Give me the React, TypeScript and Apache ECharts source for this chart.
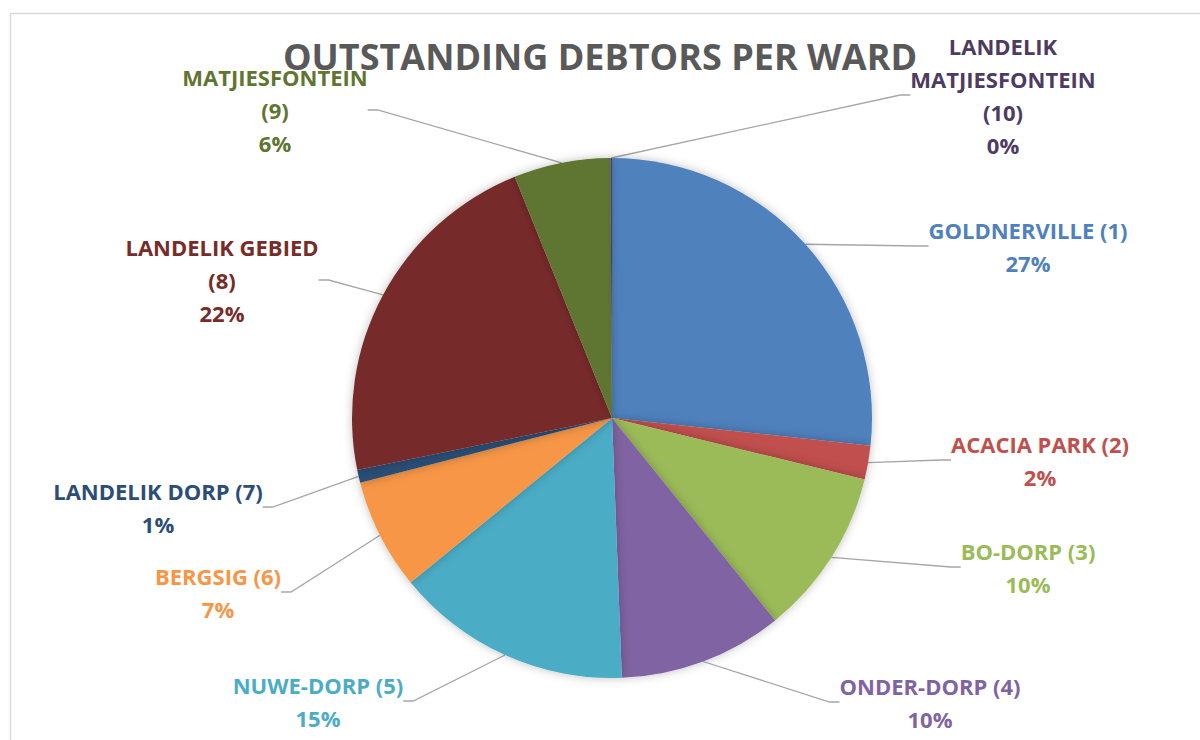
import React, { useEffect, useRef } from "react";
import * as echarts from "echarts";

const wards = [
  "GOLDNERVILLE (1)",
  "ACACIA PARK (2)",
  "BO-DORP (3)",
  "ONDER-DORP (4)",
  "NUWE-DORP (5)",
  "BERGSIG (6)",
  "LANDELIK DORP (7)",
  "LANDELIK GEBIED (8)",
  "MATJIESFONTEIN (9)",
  "LANDELIK MATJIESFONTEIN (10)",
];
const labelText = [
  "GOLDNERVILLE (1)",
  "ACACIA PARK (2)",
  "BO-DORP (3)",
  "ONDER-DORP (4)",
  "NUWE-DORP (5)",
  "BERGSIG (6)",
  "LANDELIK DORP (7)",
  "LANDELIK GEBIED\n(8)",
  "MATJIESFONTEIN\n(9)",
  "LANDELIK\nMATJIESFONTEIN\n(10)",
];
const shares = [26.7, 2.1, 10.4, 10.2, 14.7, 6.9, 0.8, 22.1, 6.0, 0.1];
const colors = [
  "#4F81BD", "#C0504D", "#9BBB59", "#8064A2", "#4BACC6",
  "#F79646", "#2C4D75", "#772C2A", "#5F7530", "#4D3B62",
];
const labelPos = [
  [1028, 246], [1040, 460], [1028, 567], [930, 702], [318, 701],
  [218, 592], [158, 507], [222, 280], [275, 110], [1003, 95],
];

export default function App() {
  const ref = useRef<HTMLDivElement>(null);
  useEffect(() => {
    const chart = echarts.init(ref.current!, null, { renderer: "svg" });
    const font = "'Open Sans', Lato, sans-serif";
    chart.setOption({
      animation: false,
      backgroundColor: "#ffffff",
      title: {
        text: "OUTSTANDING DEBTORS PER WARD",
        left: "center",
        top: 33,
        textStyle: { fontFamily: font, fontSize: 36, fontWeight: "bold", color: "#595959" },
      },
      graphic: [
        {
          type: "rect",
          shape: { x: 10.5, y: 13.5, width: 1200, height: 740 },
          style: { fill: "none", stroke: "#D9D9D9", lineWidth: 1.5 },
          silent: true,
          z: -10,
        },
      ],
      series: [
        {
          type: "pie",
          center: [612, 418],
          radius: 260,
          startAngle: 90,
          clockwise: true,
          avoidLabelOverlap: false,
          data: wards.map((w, i) => ({
            name: w,
            value: shares[i],
            itemStyle: { color: colors[i] },
            label: { color: colors[i] },
          })),
          itemStyle: {
            borderWidth: 0,
            shadowBlur: 10,
            shadowColor: "rgba(0,0,0,0.25)",
          },
          label: {
            show: true,
            fontFamily: font,
            fontSize: 22,
            fontWeight: "bold",
            lineHeight: 33,
            align: "center",
            formatter: (p: any) => `${labelText[p.dataIndex]}\n${Math.round(p.percent)}%`,
          },
          labelLine: {
            show: true,
            length: 20,
            length2: 10,
            lineStyle: { color: "#A6A6A6", width: 1.3 },
          },
          labelLayout: (p: any) => ({
            x: labelPos[p.dataIndex][0],
            y: labelPos[p.dataIndex][1],
            align: "center",
            verticalAlign: "middle",
          }),
        },
      ],
    });
    return () => chart.dispose();
  }, []);
  return (
    <div
      ref={ref}
      style={{ position: "fixed", left: 0, top: 0, width: 1200, height: 740 }}
    />
  );
}
